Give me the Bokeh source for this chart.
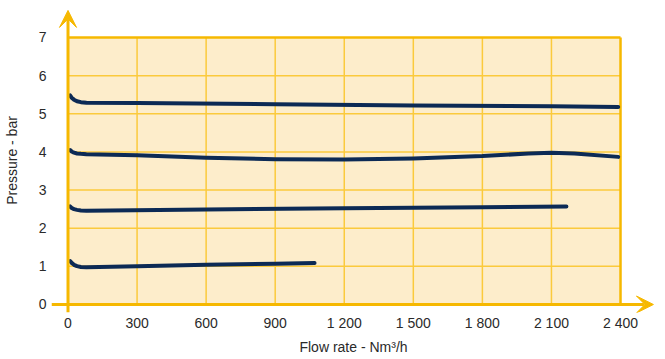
from bokeh.plotting import figure
from bokeh.models import Range1d, FixedTicker, Arrow, VeeHead
from bokeh.embed import file_html
from bokeh.resources import INLINE

# ---- data ----
x_ticks = [0, 300, 600, 900, 1200, 1500, 1800, 2100, 2400]
x_tick_labels = ["0", "300", "600", "900", "1 200", "1 500", "1 800", "2 100", "2 400"]
y_ticks = [0, 1, 2, 3, 4, 5, 6, 7]
y_tick_labels = ["0", "1", "2", "3", "4", "5", "6", "7"]

flow_5 = [9, 16, 26, 39, 56, 80, 300, 900, 1500, 2100, 2390]
pres_5 = [5.48, 5.42, 5.37, 5.33, 5.305, 5.29, 5.28, 5.25, 5.22, 5.20, 5.18]

flow_4 = [9, 16, 26, 39, 56, 80, 300, 600, 900, 1200, 1500, 1800, 2000, 2100, 2200, 2390]
pres_4 = [4.05, 4.01, 3.98, 3.96, 3.95, 3.94, 3.91, 3.85, 3.81, 3.80, 3.83, 3.89, 3.96, 3.98, 3.96, 3.87]

flow_25 = [9, 16, 26, 39, 56, 80, 600, 1200, 1800, 2165]
pres_25 = [2.57, 2.53, 2.50, 2.48, 2.465, 2.46, 2.49, 2.52, 2.55, 2.57]

flow_1 = [9, 16, 26, 39, 56, 80, 300, 600, 900, 1071]
pres_1 = [1.14, 1.09, 1.04, 1.005, 0.985, 0.975, 1.00, 1.04, 1.07, 1.09]

x_label = "Flow rate - Nm³/h"
y_label = "Pressure - bar"

# ---- style ----
FONT = "Liberation Sans"
TXT = "#2a2a2a"
AXIS = "#f6b800"
GRID = "#fbca3c"
BG = "#fdedcb"
CURVE = "#0c2a55"

x_lo, x_hi = -71.7, 2552
y_lo, y_hi = -0.21, 7.76

p = figure(frame_width=604, frame_height=304, output_backend="svg", toolbar_location=None,
           x_range=Range1d(x_lo, x_hi), y_range=Range1d(y_lo, y_hi),
           min_border_left=45, min_border_right=0, min_border_top=8, min_border_bottom=39)
p.outline_line_color = None
p.grid.visible = False
p.background_fill_color = "white"
p.border_fill_color = "white"

# plotting area background
p.quad(left=[x_ticks[0]], right=[x_ticks[-1]], bottom=[y_ticks[0]], top=[y_ticks[-1]],
       fill_color=BG, line_color=None)

# grid lines
inner_x = x_ticks[1:-1]
inner_y = y_ticks[1:-1]
p.segment(x0=inner_x, x1=inner_x, y0=[y_ticks[0]] * len(inner_x), y1=[y_ticks[-1]] * len(inner_x),
          line_color=GRID, line_width=1.5)
p.segment(x0=[x_ticks[0]] * len(inner_y), x1=[x_ticks[-1]] * len(inner_y), y0=inner_y, y1=inner_y,
          line_color=GRID, line_width=1.5)
# outer border (top / right)
p.segment(x0=[x_ticks[0], x_ticks[-1]], x1=[x_ticks[-1], x_ticks[-1]],
          y0=[y_ticks[-1], y_ticks[0]], y1=[y_ticks[-1], y_ticks[-1]],
          line_color=AXIS, line_width=2.5)

# axis arrows
p.add_layout(Arrow(x_start=0, y_start=y_lo, x_end=0, y_end=7.71,
                   line_color=AXIS, line_width=3,
                   end=VeeHead(size=17, fill_color=AXIS, line_color=AXIS, line_width=1)))
p.add_layout(Arrow(x_start=x_lo, y_start=0, x_end=2543, y_end=0,
                   line_color=AXIS, line_width=3,
                   end=VeeHead(size=17, fill_color=AXIS, line_color=AXIS, line_width=1)))

# curves
for fx, py in [(flow_5, pres_5), (flow_4, pres_4), (flow_25, pres_25), (flow_1, pres_1)]:
    p.line(fx, py, line_color=CURVE, line_width=4, line_cap="round", line_join="round")

# axes
p.xaxis.ticker = FixedTicker(ticks=x_ticks)
p.xaxis.major_label_overrides = {float(t): l for t, l in zip(x_ticks, x_tick_labels)}
p.yaxis.ticker = FixedTicker(ticks=y_ticks)
p.yaxis.major_label_overrides = {float(t): l for t, l in zip(y_ticks, y_tick_labels)}
for ax in (p.xaxis[0], p.yaxis[0]):
    ax.axis_line_color = None
    ax.major_tick_line_color = None
    ax.minor_tick_line_color = None
    ax.major_tick_out = 0
    ax.major_tick_in = 0
    ax.major_label_text_font = FONT
    ax.major_label_text_font_size = "14px"
    ax.major_label_text_color = TXT
    ax.major_label_text_line_height = 1.0
    ax.axis_label_text_font = FONT
    ax.axis_label_text_font_size = "14px"
    ax.axis_label_text_font_style = "normal"
    ax.axis_label_text_color = TXT
    ax.axis_label_text_line_height = 1.0

p.xaxis.axis_label = x_label
p.yaxis.axis_label = y_label
p.xaxis.major_label_standoff = 2
p.xaxis.axis_label_standoff = 5
p.yaxis.major_label_standoff = 5
p.yaxis.axis_label_standoff = 16

open("out.html", "w").write(file_html(p, INLINE))
